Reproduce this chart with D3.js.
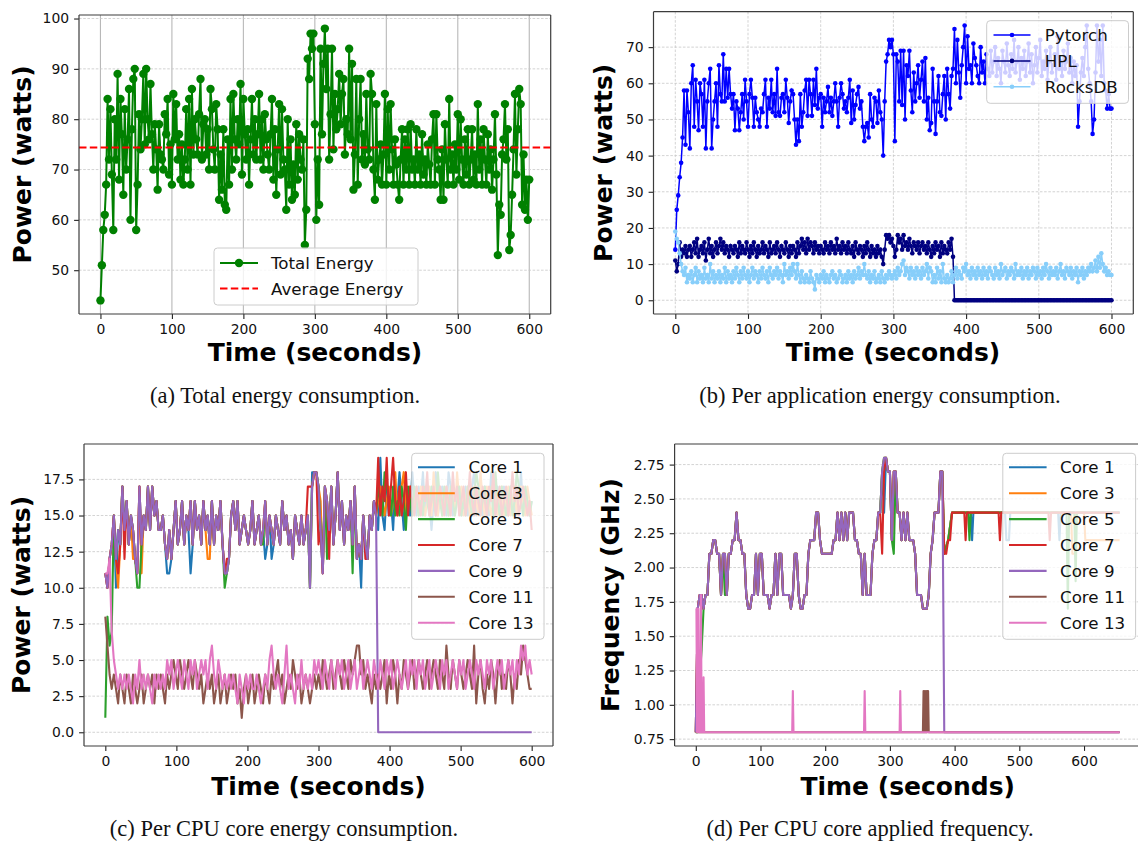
<!DOCTYPE html>
<html><head><meta charset="utf-8">
<script src="https://cdn.jsdelivr.net/npm/d3@7"></script>
<style>body{margin:0;background:#fff}</style>
</head><body>
<svg id="fig" width="1138" height="842" xmlns="http://www.w3.org/2000/svg"></svg>
<script>
// ---------------- DATA ----------------
const xTicks = [0,100,200,300,400,500,600];
const yTicksA = [50,60,70,80,90,100];
const yTicksB = [0,10,20,30,40,50,60,70];
const yTicksC = [0,2.5,5,7.5,10,12.5,15,17.5];
const yTicksD = [0.75,1,1.25,1.5,1.75,2,2.25,2.5,2.75];

const captions = ["(a) Total energy consumption.","(b) Per application energy consumption.","(c) Per CPU core energy consumption.","(d) Per CPU core applied frequency."];
const appNames = ["Pytorch","HPL","RocksDB"];
const appColors = ["#0000ff","#000080","#87cefa"];
const coreNames = ["Core 1","Core 3","Core 5","Core 7","Core 9","Core 11","Core 13"];
const coreColors = ["#1f77b4","#ff7f0e","#2ca02c","#d62728","#9467bd","#8c564b","#e377c2"];

// (a) total power, one sample every 2 s from t=0 to 600
const energyStep = 2;
const totalEnergy = [
44,51,58,61,67,84,72,82,69,58,
80,72,89,68,84,77,65,82,70,76,
86,60,78,88,90,58,67,81,74,80,
89,75,90,80,76,87,77,70,79,74,
66,79,73,72,70,81,77,84,69,75,
67,85,76,83,72,77,68,75,67,72,
82,70,84,67,86,73,80,76,73,81,
88,72,79,80,73,78,70,86,82,74,
70,83,78,64,73,66,78,63,62,76,
67,84,70,85,76,72,80,75,87,69,
84,77,72,78,67,76,84,73,80,72,
77,85,72,80,70,81,76,73,70,77,
84,68,78,65,74,83,69,82,72,70,
62,80,67,76,64,71,65,79,68,77,
72,70,76,55,62,92,88,97,94,97,
79,60,72,63,94,77,91,98,86,94,
72,81,94,74,85,78,82,89,79,85,
88,73,80,77,94,76,91,66,73,88,
67,80,88,72,77,71,85,74,72,89,
85,70,64,83,68,72,75,67,73,85,
67,82,70,83,74,67,76,71,67,64,
72,78,67,76,70,78,67,79,70,72,
67,78,70,73,67,77,69,72,67,75,
71,67,76,81,67,81,72,70,64,74,
64,79,72,67,84,70,73,67,75,70,
81,68,80,72,67,76,69,78,67,72,
78,68,73,67,83,70,76,67,78,72,
67,77,70,74,66,72,81,69,53,63,
61,73,76,83,72,78,54,57,65,74,
85,69,78,86,83,63,73,62,68,60,
68];
const avgEnergy = 74.4;

// (b) per application power, one sample every 2 s
const appStep = 2;
const pytorchPower = [
14,25,29,34,38,45,58,43,58,52,
42,60,65,48,61,55,47,60,57,48,
61,42,55,60,64,42,50,55,60,48,
65,57,55,68,55,64,56,64,57,53,
57,47,55,53,47,52,57,50,61,55,
48,57,61,56,48,56,52,50,48,53,
52,57,61,48,56,53,61,52,57,51,
64,52,51,56,57,52,61,56,49,55,
58,57,50,43,50,44,57,48,52,58,
61,51,61,57,51,61,54,64,53,56,
57,48,56,52,55,59,52,56,51,55,
60,55,48,56,60,57,53,55,52,56,
61,49,58,50,54,57,59,53,55,48,
44,48,49,45,57,50,48,56,55,49,
58,52,50,40,55,66,68,72,70,72,
68,44,68,66,55,69,54,69,50,65,
62,69,58,52,63,55,60,65,56,61,
66,55,67,50,56,47,49,64,55,46,
55,62,52,51,57,62,50,64,57,53,
62,64,75,60,72,63,56,65,70,76,
60,73,64,65,60,71,67,65,62,60,
70,63,66,60,68,64,62,69,63,66,
70,62,67,64,60,69,66,63,71,65,
62,68,64,72,63,66,70,61,67,64,
69,62,66,71,63,68,60,65,70,63,
67,72,62,66,64,69,61,66,70,63,
65,68,61,73,64,66,62,69,64,66,
71,63,67,60,66,62,65,48,55,63,
67,62,70,76,64,60,55,46,50,63,
76,66,72,62,76,60,58,53,57,53,
53];
const hplPower = [
11,8,10,16,12,14,13,15,12,14,
15,12,14,16,13,17,12,14,15,13,
16,11,14,17,13,15,12,14,16,13,
15,17,14,16,13,15,14,12,15,14,
13,15,14,12,16,13,15,14,13,16,
14,12,15,13,16,14,12,15,13,14,
16,13,15,14,12,16,13,14,15,13,
16,14,12,15,14,13,16,14,12,15,
13,15,14,12,16,13,15,17,14,16,
13,17,14,16,15,13,16,14,15,13,
15,14,13,16,14,15,13,16,14,15,
13,17,14,15,13,16,14,15,13,16,
14,13,15,12,16,14,13,15,14,12,
15,13,16,14,12,15,13,14,12,15,
13,14,12,10,14,18,17,18,16,17,
15,12,14,18,16,17,14,18,15,16,
14,17,15,13,16,15,14,16,13,15,
16,14,15,13,16,14,12,15,13,16,
14,15,12,16,13,15,14,13,16,14,
17,12,
0,0,0,0,0,0,0,0,0,0,
0,0,0,0,0,0,0,0,0,0,
0,0,0,0,0,0,0,0,0,0,
0,0,0,0,0,0,0,0,0,0,
0,0,0,0,0,0,0,0,0,0,
0,0,0,0,0,0,0,0,0,0,
0,0,0,0,0,0,0,0,0,0,
0,0,0,0,0,0,0,0,0,0,
0,0,0,0,0,0,0,0,0,0,
0,0,0,0,0,0,0,0,0,0,
0,0,0,0,0,0,0,0,0];
const rocksdbPower = [
19,17,16,13,10,8,7,9,5,7,
6,8,5,7,9,5,8,6,7,5,
9,6,7,5,10,6,8,5,7,6,
8,5,7,6,9,5,8,6,7,5,
8,6,9,7,5,8,6,9,7,6,
8,5,7,9,6,8,7,5,8,6,
9,7,6,8,5,9,7,6,8,7,
9,6,8,7,5,10,7,8,6,9,
7,10,8,6,10,7,5,8,6,5,
7,6,5,8,6,5,3,7,6,5,
7,6,8,5,7,6,5,7,8,6,
7,5,6,8,7,5,6,7,5,8,
6,7,5,8,6,7,9,6,8,7,
10,7,6,8,5,7,6,8,5,6,
7,5,8,6,5,7,6,8,7,6,
7,8,6,9,7,8,10,11,7,9,
8,6,9,7,8,6,9,7,8,6,
9,7,8,10,6,9,8,5,7,5,
9,6,8,5,10,6,5,7,5,6,
8,5,7,9,6,8,7,6,9,8,
10,7,8,6,9,7,8,6,9,7,
8,6,9,7,8,6,9,8,7,6,
9,7,8,6,10,7,8,9,6,8,
7,9,8,6,10,7,8,7,9,6,
8,7,9,6,8,7,9,8,6,9,
7,8,6,9,7,10,8,6,9,7,
8,7,9,6,8,10,7,8,6,9,
8,7,9,6,8,7,9,5,8,7,
9,6,8,7,9,8,10,8,9,11,
8,12,9,13,10,8,9,7,8,7,
7];

// (c) per core power, one sample every 3 s
const coreStep = 3;
// common trace of cores 1,3,5,7,9 from t=0 to t=381 s
const corePowerShared = [
11,10,12,13,15,12,14,13,17,14,
16,13,15,14,12,11,17,13,15,14,
17,14,17,15,16,14,14,15,13,12,
14,12,14,16,13,14,16,13,15,14,
16,13,16,14,15,13,16,14,15,13,
16,13,15,14,16,13,11,11,12,15,
16,14,16,13,14,15,14,13,14,16,
13,14,15,13,14,16,13,15,14,13,
15,14,13,16,14,15,13,14,12,15,
14,13,15,13,14,15,10,17,18,18,
17,14,11,17,16,14,17,13,15,18,
14,16,13,15,14,16,13,17,12,13,
12,15,13,12,15,14,16,15];
// [time, watts] samples where a core differs from the common trace (t < 383)
const core1PowerDiff = [[15,10],[87,11],[90,11],[120,11],[225,12],[234,12],[291,18],[360,10]];
const core3PowerDiff = [[18,10],[39,12],[51,11],[144,12],[147,12],[303,16]];
const core5PowerDiff = [[0,1],[3,8],[6,6],[9,7],[45,10],[48,10],[168,10],[222,13],[306,12],[312,12],[348,11]];
const core7PowerDiff = [[18,11],[27,12],[171,12],[285,17],[288,17],[300,13],[315,12],[366,12]];
// after t = 384 s (every 3 s up to 600)
const core1PowerLate = [
14,19,15,14,17,15,16,14,17,16,
18,16,14,17,16,15,18,16,15,17,
16,18,15,17,16,14,16,18,15,16,
17,16,15,18,17,15,16,17,16,15,
16,17,15,16,17,18,15,16,17,15,
17,16,15,18,16,15,17,16,15,17,
16,15,17,16,15,17,16,18,15,16,
16,15,16];
const core3PowerLate = [
16,17,16,15,16,17,15,16,18,15,
16,17,18,15,16,17,15,16,17,15,
17,16,15,16,17,15,18,16,15,17,
15,16,17,15,16,17,15,18,16,17,
15,16,17,15,16,17,16,15,18,16,
15,17,16,15,16,17,15,16,17,15,
16,17,15,16,17,15,16,17,16,15,
17,16,15];
const core5PowerLate = [
17,16,15,18,17,16,15,17,15,16,
15,17,16,14,17,16,15,17,16,15,
16,15,17,16,15,17,16,15,18,16,
15,17,16,15,17,16,15,16,17,15,
16,15,17,16,15,16,18,17,15,16,
17,15,16,17,15,18,16,15,17,16,
15,16,17,15,16,18,17,16,15,17,
16,15,16];
const core7PowerLate = [
19,15,17,16,19,15,17,19,16,15,
17,15,16,18,15,17,16,15,17,16,
15,17,16,18,15,16,17,15,16,17,
16,15,17,16,15,18,16,17,15,16,
17,15,16,18,16,15,17,16,15,17,
16,15,17,16,18,15,16,17,15,16,
17,15,16,18,16,17,15,16,17,16,
15,16,14];
const core9PowerLate = [[384,0],[600,0]];
const core11Power = [
8,6,4,3,4,3,2,4,3,2,
4,3,2,4,3,2,3,4,2,3,
4,3,4,2,4,3,4,3,2,4,
3,4,5,4,3,5,4,3,4,5,
4,3,5,4,3,4,2,3,4,3,
4,2,3,4,2,3,4,2,3,4,
3,4,2,3,1,3,4,2,3,4,
2,3,4,3,2,4,3,2,4,3,
4,5,3,4,2,3,4,3,5,4,
3,4,2,3,4,3,2,3,4,3,
4,3,5,4,3,4,5,3,4,5,
4,3,5,4,3,5,4,5,6,6,
4,5,3,4,3,2,4,3,4,3,
4,5,2,4,3,5,4,2,4,3,
5,4,3,4,5,3,4,5,4,3,
4,5,3,4,5,4,3,5,4,3,
6,4,3,5,4,3,5,4,3,4,
5,4,3,6,2,4,5,3,2,4,
3,5,4,2,4,5,3,4,3,5,
4,2,4,3,5,4,6,5,4,3,
3];
const core13Power = [
11,11,12,7,5,4,3,4,3,4,
3,4,3,2,4,3,5,3,4,3,
4,3,2,4,3,4,3,4,3,5,
4,5,3,4,5,4,3,5,4,3,
5,4,5,3,4,5,4,5,3,5,
6,4,3,5,4,3,4,3,4,3,
4,3,2,4,3,2,4,3,4,3,
3,4,3,2,3,4,3,5,6,4,
3,4,3,2,4,6,3,4,3,2,
4,3,5,3,4,3,4,3,5,4,
5,4,3,5,4,3,5,4,3,5,
4,5,3,4,5,3,4,5,3,4,
5,3,4,5,4,3,5,4,3,5,
4,3,5,4,5,3,4,5,4,3,
4,5,3,5,4,5,3,5,4,5,
3,4,5,3,4,5,4,3,5,4,
5,3,4,5,4,3,5,4,5,3,
4,5,4,3,5,4,5,4,3,5,
4,5,3,4,5,4,5,3,4,5,
4,5,3,5,4,6,5,6,4,5,
4];

// (d) per core frequency (GHz), common trace of cores 1..9 every 3 s up to t=381
const freqShared = [
0.8,1.7,1.8,1.8,1.7,1.8,1.8,2.1,2.1,2.2,
2.2,2.1,2.1,1.8,2.1,2.1,1.8,2.1,2.1,2.2,
2.2,2.4,2.2,2.2,2.1,2.1,1.8,1.7,1.7,1.8,
1.8,2.1,1.8,2.1,2.1,1.8,1.8,1.8,1.7,1.8,
1.8,2.1,1.8,2.1,2.1,1.8,1.8,1.8,1.8,1.7,
1.8,2.1,2.1,1.8,1.7,1.7,1.8,1.8,2.1,2.2,
2.2,2.2,2.4,2.4,2.2,2.1,2.1,2.1,2.1,2.1,
2.1,2.2,2.2,2.4,2.2,2.4,2.2,2.4,2.2,2.4,
2.4,2.4,2.2,2.2,2.1,2.1,1.8,2.1,1.8,1.8,
1.8,2.1,2.2,2.2,2.4,2.4,2.7,2.8,2.8,2.7,
2.7,2.2,2.7,2.7,2.4,2.4,2.2,2.4,2.2,2.4,
2.2,2.2,2.2,2.1,1.8,1.8,1.8,1.7,1.7,1.7,
1.8,2.1,2.2,2.4,2.4,2.4,2.7,2.7];
const core1FreqDiff = [[291,2.4]];
const core3FreqDiff = [];
const core5FreqDiff = [[3,0.8],[6,1.2],[9,1.4],[45,1.8],[306,2.1]];
const core7FreqDiff = [[288,2.1],[291,2.7]];
// vertices [time, GHz] after t = 384 s
const core1FreqLate = [[384,2.1],[390,2.2],[396,2.4],[425,2.4],[427,2.2],[429,2.4],[478,2.4],[480,2.2],[484,2.2],[486,2.4],[560,2.4],[562,2.2],[564,2.4],[655,2.4]];
const core3FreqLate = [[384,2.1],[390,2.2],[396,2.4],[580,2.4],[582,2.1],[586,2.1],[588,2.4],[600,2.4],[602,2.2],[655,2.2]];
const core5FreqLate = [[384,2.1],[390,2.2],[396,2.4],[421,2.4],[423,2.2],[425,2.4],[573,2.4],[575,1.7],[577,2.4],[585,2.4],[587,1.9],[589,2.4],[655,2.4]];
const core7FreqLate = [[384,2.1],[387,2.1],[390,2.2],[393,2.2],[396,2.4],[415,2.4],[417,2.2],[419,2.4],[468,2.4],[470,2.2],[472,2.4],[545,2.4],[547,2.2],[549,2.4],[655,2.4]];
const core9FreqLate = [[384,0.8],[655,0.8]];
const core11Freq = [[0,0.8],[2,0.8],[3,1.4],[4,0.8],[351,0.8],[352,1.1],[353,0.8],[354,1.1],[355,0.8],[356,1.1],[357,0.8],[358,1.1],[359,1.1],[360,0.8],[655,0.8]];
const core13Freq = [[0,1.7],[1,1.7],[2,0.8],[3,1.7],[4,1.7],[5,0.8],[7,0.8],[8,1.8],[9,0.8],[11,0.8],[12,1.2],[13,0.8],[149,0.8],[150,1.1],[151,0.8],[260,0.8],[261,1.1],[262,0.8],[315,0.8],[316,1.1],[317,0.8],[655,0.8]];

// ---------------- DRAWING ----------------
const W = 1138;
const FONT = '"DejaVu Sans", Verdana, sans-serif';
const SERIF = '"Liberation Serif", "Times New Roman", serif';
const svg = d3.select("#fig");
const defs = svg.append("defs");

const stamp = (vals, step, t0 = 0) => vals.map((v, i) => [t0 + i * step, v]);
function applyDiff(vals, step, diff) {
  const copy = vals.slice();
  diff.forEach(([t, v]) => { copy[Math.round(t / step)] = v; });
  return stamp(copy, step);
}

function makePanel(o) {
  const x = d3.scaleLinear().domain(o.xDomain).range([o.left, o.right]);
  const y = d3.scaleLinear().domain(o.yDomain).range([o.bottom, o.top]);
  const g = svg.append("g");
  const visRight = Math.min(o.right, W);
  const cid = "clip" + o.id;
  defs.append("clipPath").attr("id", cid).append("rect")
    .attr("x", o.left).attr("y", o.top).attr("width", visRight - o.left).attr("height", o.bottom - o.top);
  const grid = g.append("g");
  if (o.gridX) {
    grid.selectAll("line.gx").data(o.xTicks).join("line").attr("class", "gx")
      .attr("x1", d => x(d)).attr("x2", d => x(d)).attr("y1", o.top).attr("y2", o.bottom)
      .attr("stroke", o.gridX === "solid" ? "#b8b8b8" : "#c8c8c8")
      .attr("stroke-width", o.gridX === "solid" ? 1.1 : 0.8)
      .attr("stroke-dasharray", o.gridX === "solid" ? null : "2.6,1.6");
  }
  if (o.gridY) {
    grid.selectAll("line.gy").data(o.yTicks).join("line").attr("class", "gy")
      .attr("x1", o.left).attr("x2", visRight).attr("y1", d => y(d)).attr("y2", d => y(d))
      .attr("stroke", "#c8c8c8").attr("stroke-width", 0.8).attr("stroke-dasharray", "2.6,1.6");
  }
  const plot = g.append("g").attr("clip-path", `url(#${cid})`);
  return { x, y, g, plot, o };
}

function styleAxis(ga) {
  ga.attr("font-size", null).attr("font-family", null);
  ga.selectAll(".tick line").attr("stroke", "#222").attr("stroke-width", 1.1);
  ga.selectAll(".tick text").style("font-family", FONT).style("font-size", "13.9px").attr("fill", "#111");
}

function finishPanel(p) {
  const o = p.o;
  const gx = p.g.append("g").attr("transform", `translate(0,${o.bottom})`)
    .call(d3.axisBottom(p.x).tickValues(o.xTicks).tickSize(4.9).tickPadding(5).tickFormat(d3.format("d")));
  gx.select(".domain").remove(); styleAxis(gx);
  const gy = p.g.append("g").attr("transform", `translate(${o.left},0)`)
    .call(d3.axisLeft(p.y).tickValues(o.yTicks).tickSize(4.9).tickPadding(5).tickFormat(o.yFmt));
  gy.select(".domain").remove(); styleAxis(gy);
  const sp = p.g.append("g").attr("stroke", "#3c3c3c").attr("stroke-width", 1.2).attr("fill", "none");
  const r = Math.min(o.right, W + 2);
  sp.append("line").attr("x1", o.left).attr("x2", o.left).attr("y1", o.top).attr("y2", o.bottom);
  sp.append("line").attr("x1", o.left).attr("x2", r).attr("y1", o.bottom).attr("y2", o.bottom);
  sp.append("line").attr("x1", o.left).attr("x2", r).attr("y1", o.top).attr("y2", o.top);
  if (o.right <= W) sp.append("line").attr("x1", o.right).attr("x2", o.right).attr("y1", o.top).attr("y2", o.bottom);
  // labels
  p.g.append("text").attr("x", o.xLabelX).attr("y", o.xLabelY).attr("text-anchor", "middle")
    .style("font-family", FONT).style("font-size", "25px").style("font-weight", "bold").text("Time (seconds)");
  p.g.append("text").attr("transform", `translate(${o.yLabelX},${(o.top + o.bottom) / 2}) rotate(-90)`)
    .attr("text-anchor", "middle").style("font-family", FONT).style("font-size", "25px").style("font-weight", "bold").text(o.yLabel);
  p.g.append("text").attr("x", o.capX).attr("y", o.capY).attr("text-anchor", "middle")
    .style("font-family", SERIF).style("font-size", "22.5px").attr("fill", "#111").text(o.caption);
}

function drawLegend(o) {
  const lg = svg.append("g");
  lg.append("rect").attr("x", o.x0).attr("y", o.y0).attr("width", o.x1 - o.x0).attr("height", o.y1 - o.y0)
    .attr("rx", 3.5).attr("fill", "#fff").attr("fill-opacity", 0.8).attr("stroke", "#cccccc").attr("stroke-width", 1);
  o.items.forEach((it, i) => {
    const cy = o.row0 + i * o.step;
    lg.append("line").attr("x1", o.lx1).attr("x2", o.lx2).attr("y1", cy).attr("y2", cy)
      .attr("stroke", it.color).attr("stroke-width", it.width).attr("stroke-dasharray", it.dash || null);
    if (it.r) lg.append("circle").attr("cx", (o.lx1 + o.lx2) / 2).attr("cy", cy).attr("r", it.r).attr("fill", it.color);
    lg.append("text").attr("x", o.tx).attr("y", cy + 6.1).style("font-family", FONT).style("font-size", "16.7px")
      .attr("fill", "#111").text(it.label);
  });
}

// ---------- Panel (a) ----------
const pa = makePanel({ id: "a", left: 79, right: 550.7, top: 15, bottom: 314, xDomain: [-30, 630], yDomain: [41.3, 100.7],
  xTicks, yTicks: yTicksA, yFmt: d3.format("d"), gridX: "solid", gridY: true,
  xLabelX: 315, xLabelY: 361, yLabelX: 31, yLabel: "Power (watts)", capX: 285, capY: 403, caption: captions[0] });
const energyPts = stamp(totalEnergy, energyStep);
pa.plot.append("path").datum(energyPts).attr("fill", "none").attr("stroke", "#008000").attr("stroke-width", 2)
  .attr("d", d3.line().x(d => pa.x(d[0])).y(d => pa.y(d[1])));
pa.plot.append("g").selectAll("circle").data(energyPts).join("circle")
  .attr("cx", d => pa.x(d[0])).attr("cy", d => pa.y(d[1])).attr("r", 4.2).attr("fill", "#008000");
pa.plot.append("line").attr("x1", pa.x(-30)).attr("x2", pa.x(630)).attr("y1", pa.y(avgEnergy)).attr("y2", pa.y(avgEnergy))
  .attr("stroke", "#ff0000").attr("stroke-width", 2).attr("stroke-dasharray", "7.5,3.3");
finishPanel(pa);
drawLegend({ x0: 214, x1: 418, y0: 248, y1: 305, lx1: 220, lx2: 258, tx: 271, row0: 263, step: 25.5,
  items: [{ label: "Total Energy", color: "#008000", width: 2, r: 4.2 }, { label: "Average Energy", color: "#ff0000", width: 2, dash: "7.5,3.3" }] });

// ---------- Panel (b) ----------
const pb = makePanel({ id: "b", left: 653.5, right: 1133.3, top: 11.7, bottom: 314, xDomain: [-30, 630], yDomain: [-3.8, 79.8],
  xTicks, yTicks: yTicksB, yFmt: d3.format("d"), gridX: "dashed", gridY: true,
  xLabelX: 893, xLabelY: 361, yLabelX: 612, yLabel: "Power (watts)", capX: 880, capY: 403, caption: captions[1] });
[pytorchPower, hplPower, rocksdbPower].forEach((vals, k) => {
  const pts = stamp(vals, appStep);
  pb.plot.append("path").datum(pts).attr("fill", "none").attr("stroke", appColors[k]).attr("stroke-width", 1.5)
    .attr("d", d3.line().x(d => pb.x(d[0])).y(d => pb.y(d[1])));
  pb.plot.append("g").selectAll("circle").data(pts).join("circle")
    .attr("cx", d => pb.x(d[0])).attr("cy", d => pb.y(d[1])).attr("r", 2.3).attr("fill", appColors[k]);
});
finishPanel(pb);
drawLegend({ x0: 986.7, x1: 1128.5, y0: 20.7, y1: 103.3, lx1: 993.5, lx2: 1030.5, tx: 1044.8, row0: 35, step: 25.9,
  items: appNames.map((n, k) => ({ label: n, color: appColors[k], width: 1.5, r: 2.3 })) });

// ---------- Panel (c) ----------
const pc = makePanel({ id: "c", left: 84, right: 553, top: 444, bottom: 746, xDomain: [-30, 630], yDomain: [-0.95, 19.95],
  xTicks, yTicks: yTicksC, yFmt: d3.format(".1f"), gridX: false, gridY: true,
  xLabelX: 318.5, xLabelY: 795, yLabelX: 30, yLabel: "Power (watts)", capX: 284, capY: 836, caption: captions[2] });
const powerSeries = [
  applyDiff(corePowerShared, coreStep, core1PowerDiff).concat(stamp(core1PowerLate, coreStep, 384)),
  applyDiff(corePowerShared, coreStep, core3PowerDiff).concat(stamp(core3PowerLate, coreStep, 384)),
  applyDiff(corePowerShared, coreStep, core5PowerDiff).concat(stamp(core5PowerLate, coreStep, 384)),
  applyDiff(corePowerShared, coreStep, core7PowerDiff).concat(stamp(core7PowerLate, coreStep, 384)),
  stamp(corePowerShared, coreStep).concat(core9PowerLate),
  stamp(core11Power, coreStep),
  stamp(core13Power, coreStep)
];
powerSeries.forEach((pts, k) => {
  pc.plot.append("path").datum(pts).attr("fill", "none").attr("stroke", coreColors[k]).attr("stroke-width", 2.1)
    .attr("stroke-linejoin", "round").attr("d", d3.line().x(d => pc.x(d[0])).y(d => pc.y(d[1])));
});
finishPanel(pc);
drawLegend({ x0: 411.7, x1: 544, y0: 453.3, y1: 639.3, lx1: 418, lx2: 454.8, tx: 468.4, row0: 467.3, step: 25.9,
  items: coreNames.map((n, k) => ({ label: n, color: coreColors[k], width: 2.1 })) });

// ---------- Panel (d) ----------
const pd = makePanel({ id: "d", left: 674.6, right: 1140.8, top: 444, bottom: 746, xDomain: [-32.75, 687.75], yDomain: [0.7, 2.9],
  xTicks, yTicks: yTicksD, yFmt: d3.format(".2f"), gridX: false, gridY: true,
  xLabelX: 907.7, xLabelY: 795, yLabelX: 619, yLabel: "Frequency (GHz)", capX: 870, capY: 836, caption: captions[3] });
const freqSeries = [
  applyDiff(freqShared, coreStep, core1FreqDiff).concat(core1FreqLate),
  applyDiff(freqShared, coreStep, core3FreqDiff).concat(core3FreqLate),
  applyDiff(freqShared, coreStep, core5FreqDiff).concat(core5FreqLate),
  applyDiff(freqShared, coreStep, core7FreqDiff).concat(core7FreqLate),
  stamp(freqShared, coreStep).concat(core9FreqLate),
  core11Freq,
  core13Freq
];
freqSeries.forEach((pts, k) => {
  pd.plot.append("path").datum(pts).attr("fill", "none").attr("stroke", coreColors[k]).attr("stroke-width", 2.1)
    .attr("stroke-linejoin", "round").attr("d", d3.line().x(d => pd.x(d[0])).y(d => pd.y(d[1])));
});
finishPanel(pd);
drawLegend({ x0: 1002.8, x1: 1135.6, y0: 453.3, y1: 639.3, lx1: 1009, lx2: 1046.6, tx: 1060, row0: 467.3, step: 25.9,
  items: coreNames.map((n, k) => ({ label: n, color: coreColors[k], width: 2.1 })) });
</script>
</body></html>
